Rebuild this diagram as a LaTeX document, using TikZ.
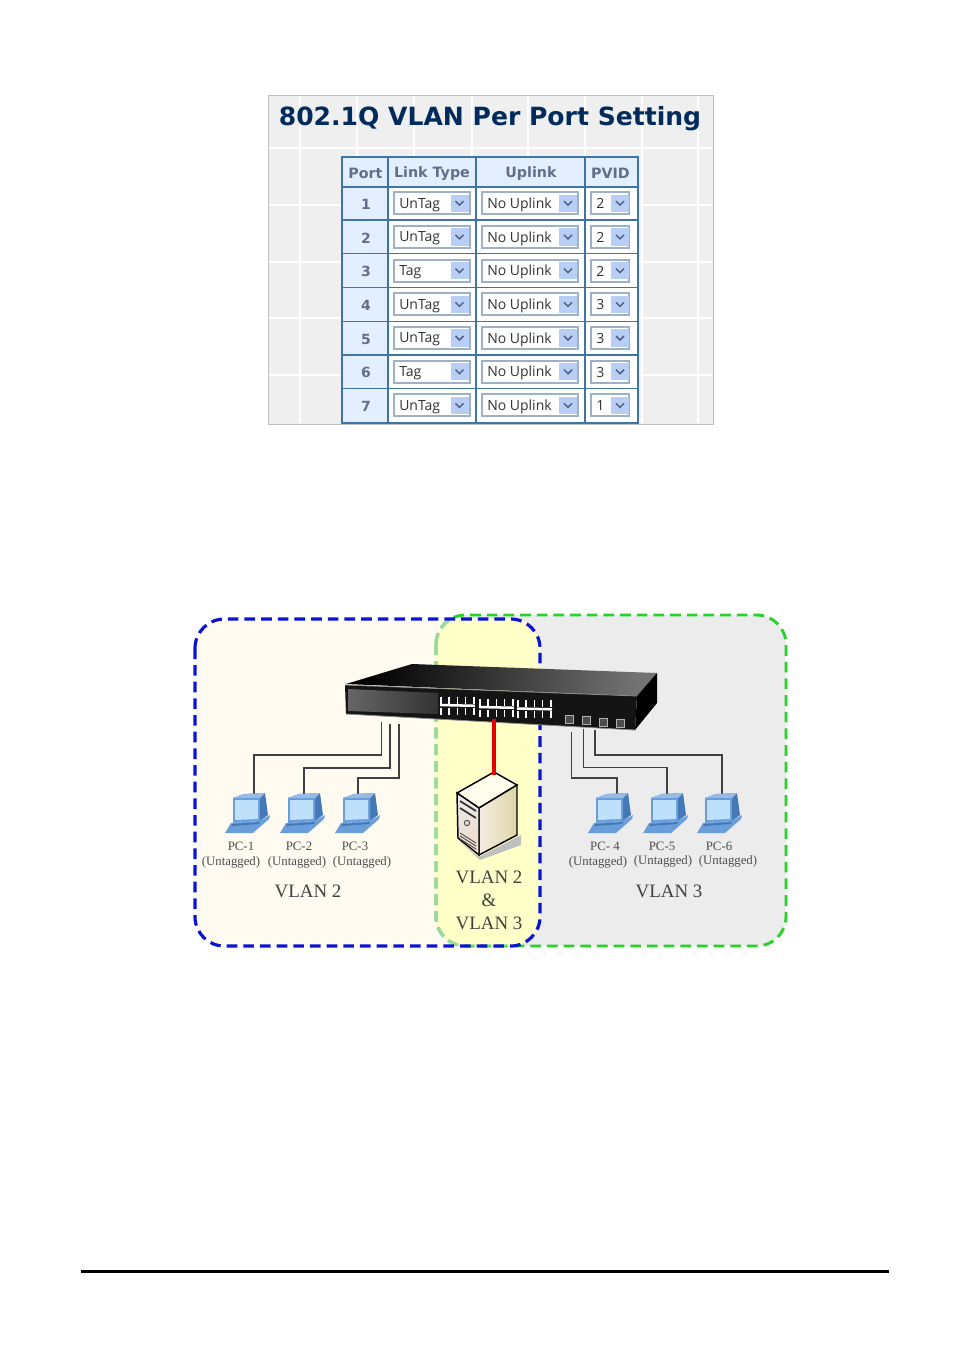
\documentclass[tikz,border=0pt]{standalone}
\usepackage{fontspec}
\setmainfont{Liberation Serif}
\newfontfamily\uifont{Open Sans}
\newfontfamily\headfont{DejaVu Sans}
\usetikzlibrary{calc}
\definecolor{panelgray}{HTML}{EFEFEF}
\definecolor{titleblue}{HTML}{002B5C}
\definecolor{tableblue}{HTML}{3F74A8}
\definecolor{cellblue}{HTML}{E3EFFE}
\definecolor{headgray}{HTML}{5F6F8C}
\definecolor{selborder}{HTML}{9DB0C6}
\definecolor{btnblue}{HTML}{B9CEF5}
\definecolor{chevblue}{HTML}{4D6185}
\definecolor{zonecream}{HTML}{FFFBF0}
\definecolor{zoneyellow}{HTML}{FFFFC8}
\definecolor{zonegray}{HTML}{ECECEC}
\definecolor{zoneblue}{HTML}{0A14D2}
\definecolor{zonegreen}{HTML}{28D228}
\definecolor{palegreen}{HTML}{9AD8A0}
\definecolor{pcblue}{HTML}{6A9EDA}
\definecolor{pcdark}{HTML}{4379B5}
\definecolor{pcscreen}{HTML}{BFE0FB}
\definecolor{srvtan}{HTML}{DDD6A6}
\definecolor{srvpink}{HTML}{EFD9C8}
\tikzset{
	hcell/.style={font=\headfont\bfseries\fontsize{10.7pt}{12pt}\selectfont, text=headgray},
	portnum/.style={font=\headfont\bfseries\fontsize{10.5pt}{12pt}\selectfont, text=headgray},
	selbox/.style={draw=selborder, line width=1.5pt, fill=white, minimum height=16.5pt, inner sep=0pt},
	seltext/.style={font=\uifont\fontsize{10.5pt}{12pt}\selectfont, text=black!80, anchor=west, inner sep=0pt},
	btn/.style={fill=btnblue, minimum width=13.5pt, minimum height=13pt, inner sep=0pt},
	wire/.style={draw=black!75, line width=.85pt},
	sfp/.style={draw=black!30, fill=black!70, line width=.75pt, minimum size=6pt, inner sep=0pt},
	pclabel/.style={font=\fontsize{9.6pt}{11pt}\selectfont, text=black!70, inner sep=0pt},
	vlanlabel/.style={font=\fontsize{14.2pt}{16pt}\selectfont, text=black!75, inner sep=0pt},
	pcicon/.pic={
		\fill[pcdark] (8,5)--(19,1)--(40,0)--(43,22)--(35,28)--cycle;
		\fill[pcblue!70!white] (8,5)--(19,1)--(40,0)--(35,5)--cycle;
		\fill[pcblue] (8,5)--(35,5)--(35,28)--(8,30)--cycle;
		\fill[pcscreen] (10,7)--(33,7)--(33,26)--(10,27)--cycle;
		\fill[pcblue] (6,30)--(35,28)--(45,22)--(44,26)--(28,40)--(0,40)--cycle;
		\fill[pcdark] (7,31)--(35,29)--(34,31)--(6,33)--cycle;
	},
}
\begin{document}
\begin{tikzpicture}[x=.75pt, y=-.75pt]
	\useasboundingbox (0,0) rectangle (954,1350);
	% settings panel
	\fill[panelgray] (268,95) rectangle (713,424);
	\foreach \x in {300,357,414,472,528,585,642,698}
	{
		\draw[white, line width=1.1pt] (\x,96)--(\x,423);
	}
	\foreach \y in {148,205,262,318,375}
	{
		\draw[white, line width=1.1pt] (269,\y)--(712,\y);
	}
	\draw[black!25, line width=.75pt] (268,95) rectangle (713,424);
	\node[font=\headfont\bfseries\fontsize{18.8pt}{22pt}\selectfont, text=titleblue, inner sep=0pt] (title) at (490,118.5) {802.1Q VLAN Per Port Setting};

	% table
	\fill[white] (342,157) rectangle (638,423);
	\fill[cellblue] (342,157) rectangle (638,187);
	\fill[cellblue] (342,157) rectangle (388,423);
	\node[hcell] (hport) at (365.5,173.5) {Port};
	\node[hcell] (hlink) at (432,173.5) {Link Type};
	\node[hcell] (hup) at (531,173.5) {Uplink};
	\node[hcell] (hpvid) at (610.5,173.5) {PVID};
	\foreach \p/\lt/\pv in {1/UnTag/2,2/UnTag/2,3/Tag/2,4/UnTag/3,5/UnTag/3,6/Tag/3,7/UnTag/1}
	{
		\pgfmathsetmacro{\cy}{203.2+33.7*(\p-1)}
		\node[portnum] (port\p) at (366,\cy+1) {\p};
		\node[selbox, minimum width=57pt] (link\p) at (431.5,\cy) {};
		\node[seltext] (linktxt\p) at (399,\cy+1.5) {\lt};
		\node[btn] (linkbtn\p) at (459.5,\cy) {};
		\draw[chevblue, line width=1.1pt] (455.5,\cy-2)--(459.5,\cy+2)--(463.5,\cy-2);
		\node[selbox, minimum width=72.5pt] (up\p) at (530,\cy) {};
		\node[seltext] (uptxt\p) at (487,\cy+1.5) {No Uplink};
		\node[btn] (upbtn\p) at (568,\cy) {};
		\draw[chevblue, line width=1.1pt] (564,\cy-2)--(568,\cy+2)--(572,\cy-2);
		\node[selbox, minimum width=29pt] (pvid\p) at (610,\cy) {};
		\node[seltext] (pvidtxt\p) at (596,\cy+.5) {\pv};
		\node[btn] (pvidbtn\p) at (620,\cy) {};
		\draw[chevblue, line width=1.1pt] (616,\cy-2)--(620,\cy+2)--(624,\cy-2);
		\draw[tableblue, line width=1pt] (342,\cy+16.9)--(638,\cy+16.9);
	}
	\draw[tableblue, line width=1.1pt] (342,187)--(638,187);
	\foreach \x in {388,476,585}
	{
		\draw[tableblue, line width=1.1pt] (\x,157)--(\x,423);
	}
	\draw[tableblue, line width=1.9pt] (342,157) rectangle (638,423);

	% vlan zones
	\def\bluezone{[rounded corners=22pt] (195,619) rectangle (540,946)}
	\def\greenzone{[rounded corners=22pt] (436,615) rectangle (786,946)}
	\fill[zonegray] \greenzone;
	\fill[zonecream] \bluezone;
	\begin{scope}
		\clip \bluezone;
		\fill[zoneyellow] \greenzone;
	\end{scope}
	\draw[zonegreen, line width=2.2pt, dash pattern=on 8pt off 4.5pt] \greenzone;
	\begin{scope}
		\clip \bluezone;
		\draw[palegreen, line width=2.4pt, dash pattern=on 8pt off 4.5pt] \greenzone;
	\end{scope}
	\draw[zoneblue, line width=2.4pt, dash pattern=on 8pt off 4.5pt] \bluezone;

	% wires
	\coordinate (swa) at (381.5,722);
	\coordinate (swb) at (390,724);
	\coordinate (swc) at (399,724);
	\coordinate (swd) at (571.5,732);
	\coordinate (swe) at (583.5,729);
	\coordinate (swf) at (595,730);
	\coordinate (pc1in) at (254,796);
	\coordinate (pc2in) at (304,796);
	\coordinate (pc3in) at (358,795);
	\coordinate (pc4in) at (617,796);
	\coordinate (pc5in) at (667,796);
	\coordinate (pc6in) at (722,795);
	\draw[wire] (swa)--++(0,33)-|(pc1in);
	\draw[wire] (swb)--++(0,44)-|(pc2in);
	\draw[wire] (swc)--++(0,54)-|(pc3in);
	\draw[wire] (swd)--++(0,46)-|(pc4in);
	\draw[wire] (swe)--++(0,38.5)-|(pc5in);
	\draw[wire] (swf)--++(0,25)-|(pc6in);

	% switch
	\shade[left color=black, right color=black!55, shading angle=80] (346,684)--(412,664)--(657,673)--(637,696)--cycle;
	\fill[black] (657,673)--(657,703)--(635,730)--(637,696)--cycle;
	\fill[black!92] (345,685)--(637,696)--(635,730)--(346,714)--cycle;
	\draw[black!45, line width=.6pt] (345,685)--(637,696);
	\shade[left color=black!60, right color=black!80] (348,689)--(438,693)--(438,714)--(348,711)--cycle;
	\draw[black!45, line width=.6pt] (346,714)--(635,730);
	\foreach \bx/\by in {440/696.5,479/698.5,517/700}
	{
		\foreach \k in {0,1,2,3,4}
		{
			\draw[white, line width=1.3pt] ($(\bx,\by)+(\k*8.2+1,0)$)--++(0,7);
			\draw[white, line width=1.3pt] ($(\bx,\by)+(\k*8.2+1,11)$)--++(0,7);
		}
		\draw[white, line width=1.9pt] (\bx,\by+8.5)--++(35,.8);
	}
	\node[sfp] (sfpa) at (569.5,719.5) {};
	\node[sfp] (sfpb) at (586,720.5) {};
	\node[sfp] (sfpc) at (603,722) {};
	\node[sfp] (sfpd) at (620,723) {};

	% server
	\fill[black!25] (458,840)--(479,857)--(521,835)--(521,845)--(480,860)--cycle;
	\draw[black, line width=1.1pt, fill=white!93!yellow] (494,772)--(517,785)--(479,808)--(457,793)--cycle;
	\shade[draw=black, line width=1.1pt, left color=srvpink!50!white, right color=srvtan] (479,808)--(517,785)--(517,835)--(479,855)--cycle;
	\shade[draw=black, line width=1.1pt, top color=white!92!black, bottom color=srvpink] (457,793)--(479,808)--(479,855)--(458,838)--cycle;
	\foreach \k in {0,1}
	{
		\draw[black!80, line width=1.3pt] (460,801+\k*7)--(476,811+\k*7);
	}
	\draw[black!70, line width=.75pt] (467,823) circle (2pt);
	\foreach \k in {0,1,2}
	{
		\draw[black!70, line width=.7pt] (460,833+\k*3)--(476,843+\k*3);
	}
	\coordinate (srv) at (494,775);
	\coordinate (swport) at (494,719);
	\draw[red!90!black, line width=3pt] (swport)--(srv);

	% pcs
	\pic (pca) at (225,793) {pcicon};
	\pic (pcb) at (280,793) {pcicon};
	\pic (pcc) at (335,793) {pcicon};
	\pic (pcd) at (588,793) {pcicon};
	\pic (pce) at (643,793) {pcicon};
	\pic (pcf) at (697,793) {pcicon};

	% labels
	\node[pclabel] (lblpca) at (241,846) {PC-1};
	\node[pclabel] (tagpca) at (231,862.5) {(Untagged)};
	\node[pclabel] (lblpcb) at (299,846) {PC-2};
	\node[pclabel] (tagpcb) at (297,862.5) {(Untagged)};
	\node[pclabel] (lblpcc) at (355,846) {PC-3};
	\node[pclabel] (tagpcc) at (362,862) {(Untagged)};
	\node[pclabel] (lblpcd) at (605,846) {PC- 4};
	\node[pclabel] (tagpcd) at (598,862) {(Untagged)};
	\node[pclabel] (lblpce) at (662,846) {PC-5};
	\node[pclabel] (tagpce) at (663,861) {(Untagged)};
	\node[pclabel] (lblpcf) at (719,846) {PC-6};
	\node[pclabel] (tagpcf) at (728,861) {(Untagged)};
	\node[vlanlabel] (vlana) at (308,891) {VLAN 2};
	\node[vlanlabel] (vlanb) at (669,891) {VLAN 3};
	\node[vlanlabel] (srvlinea) at (489,877) {VLAN 2};
	\node[vlanlabel] (srvamp) at (489,900) {\&};
	\node[vlanlabel] (srvlineb) at (489,923) {VLAN 3};

	\fill[black] (81,1270) rectangle (889,1273);
\end{tikzpicture}
\end{document}
